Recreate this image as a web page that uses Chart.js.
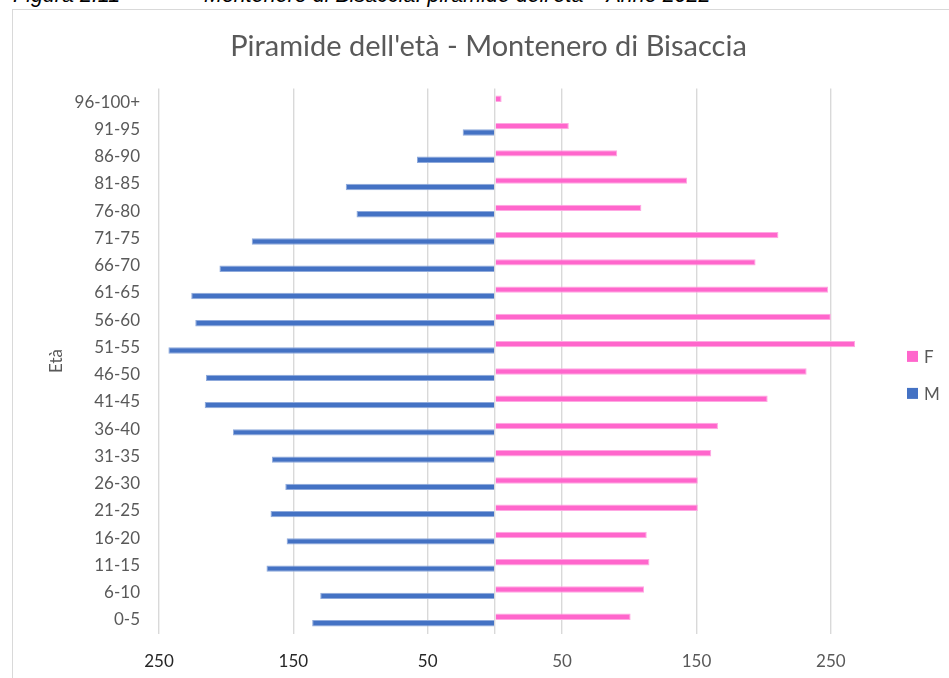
<!DOCTYPE html>
<html lang="it">
<head>
<meta charset="utf-8">
<title>Piramide dell'età - Montenero di Bisaccia</title>
<script src="https://cdn.jsdelivr.net/npm/chart.js@4.4.1/dist/chart.umd.min.js"></script>
<style>
  html, body { margin: 0; padding: 0; background: #fff; width: 949px; height: 678px; overflow: hidden; }
  #caption { position: absolute; left: 13px; top: -17px; font: italic 21.5px "Liberation Sans", Arial, sans-serif; color: #000; white-space: nowrap; }
  #caption .sub { position: absolute; left: 191px; top: 0; }
  #frame { position: absolute; left: 12px; top: 9px; width: 960px; height: 700px; border-left: 1px solid #d9d9d9; border-top: 1px solid #d9d9d9; }
  #pyramid { position: absolute; left: 13px; top: 10px; }
</style>
</head>
<body>
<div id="caption"><span>Figura 2.11</span><span class="sub">Montenero di Bisaccia: piramide dell'età – Anno 2022</span></div>
<div id="frame"></div>
<canvas id="pyramid" width="951" height="689" style="width:951px;height:689px"></canvas>
<script>
// Age classes, from the oldest (top row) to the youngest (bottom row)
const ageGroups = ['96-100+', '91-95', '86-90', '81-85', '76-80', '71-75', '66-70', '61-65', '56-60', '51-55',
                   '46-50', '41-45', '36-40', '31-35', '26-30', '21-25', '16-20', '11-15', '6-10', '0-5'];

// Residents per age class
const females = [5, 55, 91, 143, 109, 211, 194, 248, 250, 268, 232, 203, 166, 161, 151, 151, 113, 115, 111, 101];
const males   = [0, 24, 58, 111, 103, 181, 205, 226, 223, 243, 215, 216, 195, 166, 156, 167, 155, 170, 130, 136];

// Gridline positions on the value axis (men to the left, women to the right)
const axisTicks = [-250, -150, -50, 0, 50, 150, 250];

const FONT = 'Lato, "Open Sans", sans-serif';

// Legend kept in its own layout box to the right of the plot
const sideLegend = {
  id: 'sideLegend',
  beforeInit(chart, args, opts) {
    const box = {
      position: 'right',
      weight: 1000,
      fullSize: false,
      options: {},
      width: 0, height: 0, left: 0, top: 0, right: 0, bottom: 0,
      isHorizontal() { return false; },
      update(maxWidth, maxHeight) { this.width = opts.width; this.height = maxHeight; },
      draw() {
        const ctx = chart.ctx;
        ctx.save();
        ctx.font = `${opts.fontSize}px ${FONT}`;
        ctx.textBaseline = 'middle';
        ctx.textAlign = 'left';
        chart.data.datasets.forEach((ds, i) => {
          const x = this.left + opts.offsetX;
          const y = this.top + opts.offsetY + i * opts.spacing;
          ctx.fillStyle = ds.backgroundColor;
          ctx.fillRect(x, y - opts.box / 2, opts.box, opts.box);
          ctx.fillStyle = opts.color;
          ctx.fillText(ds.label, x + opts.box + 6, y + 1);
        });
        ctx.restore();
      }
    };
    Chart.layouts.addBox(chart, box);
  }
};

new Chart(document.getElementById('pyramid'), {
  type: 'bar',
  data: {
    labels: ageGroups,
    datasets: [
      { label: 'F', data: females, backgroundColor: '#FF66CC', borderColor: '#FFA8E2', borderWidth: 1 },
      { label: 'M', data: males.map(v => -v), backgroundColor: '#4472C4', borderColor: '#8FAADC', borderWidth: 1 }
    ]
  },
  plugins: [sideLegend],
  options: {
    indexAxis: 'y',
    responsive: false,
    animation: false,
    devicePixelRatio: 1,
    datasets: { bar: { categoryPercentage: 0.47, barPercentage: 1 } },
    layout: { padding: { left: 0, right: 0, top: 0, bottom: 9 } },
    plugins: {
      legend: { display: false },
      tooltip: { enabled: false },
      title: {
        display: true,
        text: "Piramide dell'età - Montenero di Bisaccia",
        color: '#595959',
        font: { family: FONT, size: 29, weight: 'normal' },
        padding: { top: 19.6, bottom: 24 }
      },
      sideLegend: { width: 66, offsetX: 9, offsetY: 268, spacing: 37, box: 11, fontSize: 17, color: '#595959' }
    },
    scales: {
      x: {
        min: -250,
        max: 300,
        afterBuildTicks: scale => { scale.ticks = axisTicks.map(v => ({ value: v })); },
        grid: { color: '#d9d9d9', lineWidth: 1.4, drawTicks: false },
        border: { display: false },
        ticks: {
          autoSkip: false,
          maxRotation: 0,
          padding: 18,
          font: { family: FONT, size: 17 },
          color: ctx => (ctx.tick && ctx.tick.value < 0) ? '#262626' : '#595959',
          callback: v => v === 0 ? '' : String(Math.abs(v))
        }
      },
      y: {
        grid: { display: false, drawTicks: false },
        border: { display: false },
        ticks: { color: '#595959', font: { family: FONT, size: 17 }, padding: 19 },
        title: { display: true, text: 'Età', color: '#595959', font: { family: FONT, size: 17 }, padding: { top: 33, bottom: 0 } },
        afterFit: scale => { scale.width = 146; }
      }
    }
  }
});
</script>
</body>
</html>
